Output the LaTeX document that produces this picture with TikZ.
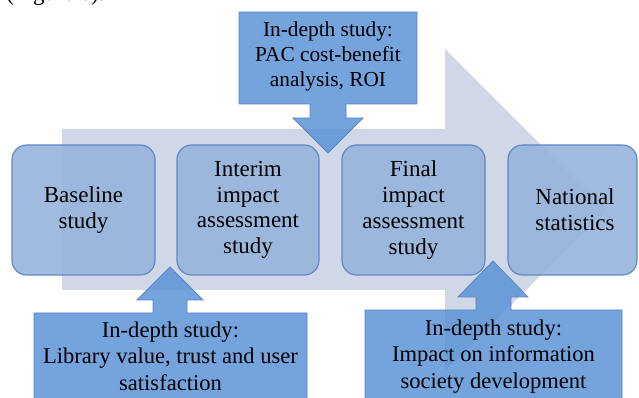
\documentclass[tikz,border=0pt]{standalone}
\usepackage{fontspec}
\setmainfont{Liberation Serif}
\usepackage{tikz}

\begin{document}
\begin{tikzpicture}[x=0.75pt,y=0.75pt,yscale=-1,xscale=1,
  stagebox/.style={draw={rgb, 255:red, 96; green, 136; blue, 196 },line width=0.9,fill={rgb, 255:red, 151; green, 180; blue, 219 },fill opacity=0.9,rounded corners=11pt},
  callout/.style={draw={rgb, 255:red, 88; green, 134; blue, 200 },line width=0.6,fill={rgb, 255:red, 92; green, 147; blue, 215 },fill opacity=0.85},
  stagetext/.style={inner sep=0pt,align=center,font=\fontsize{17.25}{19.3}\selectfont},
  callouttext/.style={inner sep=0pt,align=center,anchor=north}]
\useasboundingbox (0,0) rectangle (639,398);

% Text Node (cut off at the top)
\draw (6,1) node (figref) [anchor=base west][inner sep=0pt][font=\fontsize{17.25}{19.3}\selectfont] {(Figure 6).};

%Shape: Right Arrow [id:bgarrow]
\fill [color={rgb, 255:red, 208; green, 216; blue, 232 }] (62,129) -- (445,129) -- (445,49) -- (606,210) -- (445,371) -- (445,290) -- (62,290) -- cycle ;

%Shape: Rounded Rect [id:baseline]
\draw [stagebox] (12,145) rectangle (155,275) ;
%Shape: Rounded Rect [id:interim]
\draw [stagebox] (177,145) rectangle (319,275) ;
%Shape: Rounded Rect [id:final]
\draw [stagebox] (342,145) rectangle (485,275) ;
%Shape: Rounded Rect [id:national]
\draw [stagebox] (508,145) rectangle (637,275) ;

%Shape: Down Arrow Callout [id:topcall]
\draw [callout] (239,12) -- (417,12) -- (417,104) -- (346,104) -- (346,118) -- (363,118) -- (328,153) -- (293,118) -- (310,118) -- (310,104) -- (239,104) -- cycle ;
%Shape: Up Arrow Callout [id:leftcall]
\draw [callout] (34,410) -- (34,313) -- (153,313) -- (153,300) -- (137,300) -- (170,267) -- (203,300) -- (187,300) -- (187,313) -- (307,313) -- (307,410) -- cycle ;
%Shape: Up Arrow Callout [id:rightcall]
\draw [callout] (365,410) -- (365,310) -- (476,310) -- (476,297) -- (458,297) -- (493,261) -- (528,297) -- (511,297) -- (511,310) -- (622,310) -- (622,410) -- cycle ;

% Text Node
\draw (83.5,210) node (baselineText) [stagetext] {Baseline\\study};
% Text Node
\draw (248,210) node (interimText) [stagetext] {Interim\\impact\\assessment\\study};
% Text Node
\draw (413.5,210) node (finalText) [stagetext] {Final\\impact\\assessment\\study};
% Text Node
\draw (575,210) node (nationalText) [stagetext] {National\\statistics};

% Text Node
\draw (328,21) node (costText) [callouttext][font=\fontsize{16}{18.75}\selectfont] {In-depth study:\\PAC cost-benefit\\analysis, ROI};
% Text Node
\draw (170.5,321.5) node (valueText) [callouttext][font=\fontsize{16.9}{19.9}\selectfont] {In-depth study:\\Library value, trust and user\\satisfaction};
% Text Node
\draw (493.5,319.5) node (societyText) [callouttext][font=\fontsize{16.9}{19.9}\selectfont] {In-depth study:\\Impact on information\\society development};

\end{tikzpicture}
\end{document}
